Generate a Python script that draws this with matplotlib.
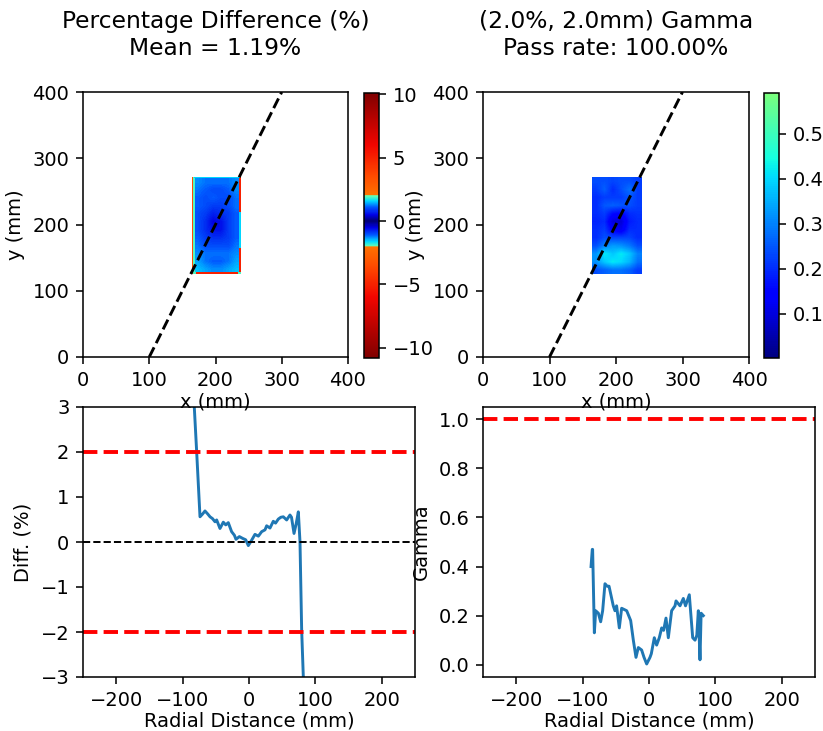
import numpy as np
import matplotlib
matplotlib.use("Agg")
import matplotlib.pyplot as plt
from matplotlib.colors import LinearSegmentedColormap

# ---- data ----
# percentage difference map (interior grid, rows bottom -> top)
diff_grid = [
    [1.5, 1.4, 1.3, 1.3, 1.4, 1.5],
    [1.4, 1.2, 1.1, 1.1, 1.2, 1.4],
    [1.3, 1.2, 1.2, 1.2, 1.2, 1.3],
    [1.2, 1.0, 1.0, 1.0, 1.0, 1.2],
    [1.1, 0.9, 0.8, 0.8, 0.9, 1.1],
    [1.0, 0.8, 0.6, 0.6, 0.9, 1.1],
    [1.0, 0.8, 0.5, 0.6, 0.9, 1.1],
    [1.0, 0.9, 0.7, 0.8, 0.9, 1.1],
    [1.1, 1.0, 0.9, 0.9, 1.0, 1.2],
    [1.1, 1.0, 1.1, 1.0, 1.0, 1.2],
    [1.2, 1.1, 1.0, 1.0, 1.1, 1.3],
    [1.3, 1.2, 1.2, 1.2, 1.2, 1.3],
]
# edge strips of the difference map
diff_left = [[3.5, 1.9]] * 6
diff_right = [[5.0], [5.0], [5.0], [1.6], [1.6], [1.6], [1.6], [5.0], [5.0], [5.0], [5.0]]
diff_bottom = [[1.9, 5.0, 5.0, 5.0, 5.0, 5.0, 5.0, 5.0, 5.0, 5.0, 5.0, 5.0, 5.0, 1.9]]
diff_top = [[1.6] * 6]

# gamma map (rows bottom -> top)
gamma_grid = [
    [0.24, 0.26, 0.28, 0.28, 0.26, 0.22],
    [0.32, 0.38, 0.42, 0.40, 0.36, 0.28],
    [0.32, 0.42, 0.38, 0.42, 0.38, 0.30],
    [0.24, 0.30, 0.33, 0.32, 0.29, 0.24],
    [0.20, 0.24, 0.23, 0.23, 0.23, 0.20],
    [0.20, 0.22, 0.14, 0.12, 0.20, 0.20],
    [0.19, 0.20, 0.10, 0.09, 0.18, 0.20],
    [0.20, 0.22, 0.16, 0.15, 0.20, 0.21],
    [0.20, 0.25, 0.26, 0.25, 0.24, 0.22],
    [0.20, 0.22, 0.22, 0.22, 0.25, 0.22],
    [0.22, 0.26, 0.20, 0.24, 0.28, 0.22],
    [0.24, 0.24, 0.23, 0.24, 0.24, 0.22],
]

diff_vmin, diff_vmax = -10.8, 10.1
gamma_vmin, gamma_vmax = 0.002, 0.59

# profile line end points (mm)
line_x = [100, 300]
line_y = [0, 400]

# profiles along the line
diff_r = [-84, -82.4, -78.8, -73.8, -70, -66.3, -62, -58.7, -55, -51.2, -48.7, -43.7,
          -38.7, -35, -31.2, -26.2, -22, -19.6, -14.5, -9.5, -5, -1.0, 4.0, 9.0, 14.1,
          19.1, 24.1, 26.6, 31.6, 36.6, 40, 44.2, 48, 51.7, 56.7, 61.7, 64, 67.8, 71,
          74.3, 76.8, 79.3, 81.8, 83]
diff_v = [8.0, 3.0, 2.0, 0.56, 0.62, 0.69, 0.62, 0.56, 0.52, 0.45, 0.49, 0.30,
          0.44, 0.38, 0.43, 0.23, 0.15, 0.06, 0.12, 0.08, 0.05, -0.08, 0.04, 0.17, 0.13,
          0.23, 0.27, 0.36, 0.31, 0.46, 0.42, 0.51, 0.55, 0.56, 0.49, 0.60, 0.55, 0.19, 0.40,
          0.67, 0.0, -1.95, -3.0, -8.0]

gamma_r = [-87.3, -85.4, -84.9, -82.3, -80.3, -76.3, -72.8, -69.8, -66.3, -63, -60.2,
           -53.8, -51.3, -48.8, -44.7, -41.2, -33.6, -27.6, -23.6, -19.6, -16.1, -11.1,
           -7.5, -3.5, 1.5, 3.5, 8.0, 11.5, 15.5, 19.1, 22, 25.6, 29.1, 34.1, 39.2, 40.7,
           46.7, 51.7, 55, 60.7, 65.8, 69.3, 72, 74.3, 76.8, 78.5, 81.8]
gamma_v = [0.40, 0.47, 0.47, 0.13, 0.22, 0.21, 0.175, 0.22, 0.33, 0.32, 0.32,
           0.24, 0.22, 0.24, 0.15, 0.23, 0.22, 0.18, 0.10, 0.03, 0.07, 0.06,
           0.03, 0.003, 0.03, 0.045, 0.11, 0.08, 0.11, 0.15, 0.14, 0.19, 0.11, 0.22, 0.24, 0.26,
           0.24, 0.27, 0.24, 0.285, 0.11, 0.10, 0.12, 0.22, 0.02, 0.21, 0.20]

diff_mean = 1.19
pass_rate = 100.00
dose_tol, dta_tol = 2.0, 2.0

# ---- colormaps ----
anchors = [(-10.8, (0.5, 0, 0)), (-6, (0.95, 0.02, 0)), (-3.5, (1, 0.3, 0)),
           (-2.01, (1, 0.45, 0)), (-2.0, (0.4, 1, 0.7)), (-1.6, (0, 0.85, 1)),
           (-1.1, (0, 0.35, 1)), (-0.5, (0, 0, 0.9)), (0, (0, 0, 0.45)),
           (0.5, (0, 0, 0.9)), (1.1, (0, 0.35, 1)), (1.6, (0, 0.85, 1)),
           (2.0, (0.4, 1, 0.7)), (2.01, (1, 0.45, 0)), (3.5, (1, 0.3, 0)),
           (6, (0.95, 0.02, 0)), (10.1, (0.5, 0, 0))]
diff_cmap = LinearSegmentedColormap.from_list(
    "diff", [((v - diff_vmin) / (diff_vmax - diff_vmin), c) for v, c in anchors], N=512)
jet = plt.get_cmap("jet")
gamma_cmap = LinearSegmentedColormap.from_list("gam", jet(np.linspace(0, 0.5, 256)))

# ---- figure ----
W, H = 823, 731
DPI = 140
fig = plt.figure(figsize=(W / DPI, H / DPI), dpi=DPI)


def box(l, t, w, h):
    return [l / W, (H - t - h) / H, w / W, h / H]


ax3 = fig.add_axes(box(83, 407, 332, 270))
ax4 = fig.add_axes(box(483, 407, 332, 270))
ax1 = fig.add_axes(box(83, 92, 265, 265))
cax1 = fig.add_axes(box(364, 93, 15, 265))
ax2 = fig.add_axes(box(483, 92, 266, 265))
cax2 = fig.add_axes(box(764, 93, 15, 265))

kw = dict(cmap=diff_cmap, vmin=diff_vmin, vmax=diff_vmax, origin="lower", aspect="auto")
im1 = ax1.imshow(diff_grid, extent=(168, 236, 127, 269), interpolation="bilinear", **kw)
ax1.imshow(diff_left, extent=(165, 168.5, 125, 271), interpolation="nearest", **kw)
ax1.imshow(diff_right, extent=(235.5, 238, 125, 271), interpolation="nearest", **kw)
ax1.imshow(diff_bottom, extent=(166, 238, 125, 127.5), interpolation="nearest", **kw)
ax1.imshow(diff_top, extent=(168, 236, 269.5, 271), interpolation="nearest", **kw)
ax1.plot(line_x, line_y, "k--")
ax1.set_xlim(0, 400)
ax1.set_ylim(0, 400)
ax1.set_xlabel("x (mm)", labelpad=1.5)
ax1.set_ylabel("y (mm)")
ax1.set_title("Percentage Difference (%%)\nMean = %.2f%%" % diff_mean, pad=19)
fig.colorbar(im1, cax=cax1)

im2 = ax2.imshow(gamma_grid, extent=(164, 238, 125, 271), cmap=gamma_cmap,
                 vmin=gamma_vmin, vmax=gamma_vmax, origin="lower", aspect="auto",
                 interpolation="bilinear")
ax2.plot(line_x, line_y, "k--")
ax2.set_xlim(0, 400)
ax2.set_ylim(0, 400)
ax2.set_xlabel("x (mm)", labelpad=1.5)
ax2.set_ylabel("y (mm)")
ax2.set_title("(%.1f%%, %.1fmm) Gamma\nPass rate: %.2f%%" % (dose_tol, dta_tol, pass_rate), pad=19)
fig.colorbar(im2, cax=cax2)

ax3.plot(diff_r, diff_v)
ax3.axhline(dose_tol, color="r", linestyle="--", linewidth=2)
ax3.axhline(-dose_tol, color="r", linestyle="--", linewidth=2)
ax3.axhline(0, color="k", linestyle="--", linewidth=1)
ax3.set_xlim(-250, 250)
ax3.set_ylim(-3, 3)
ax3.set_xlabel("Radial Distance (mm)", labelpad=1)
ax3.set_ylabel("Diff. (%)")

ax4.plot(gamma_r, gamma_v)
ax4.axhline(1.0, color="r", linestyle="--", linewidth=2)
ax4.set_xlim(-250, 250)
ax4.set_ylim(-0.05, 1.05)
ax4.set_xlabel("Radial Distance (mm)", labelpad=1)
ax4.set_ylabel("Gamma")

fig.savefig("out.png", dpi=DPI)
